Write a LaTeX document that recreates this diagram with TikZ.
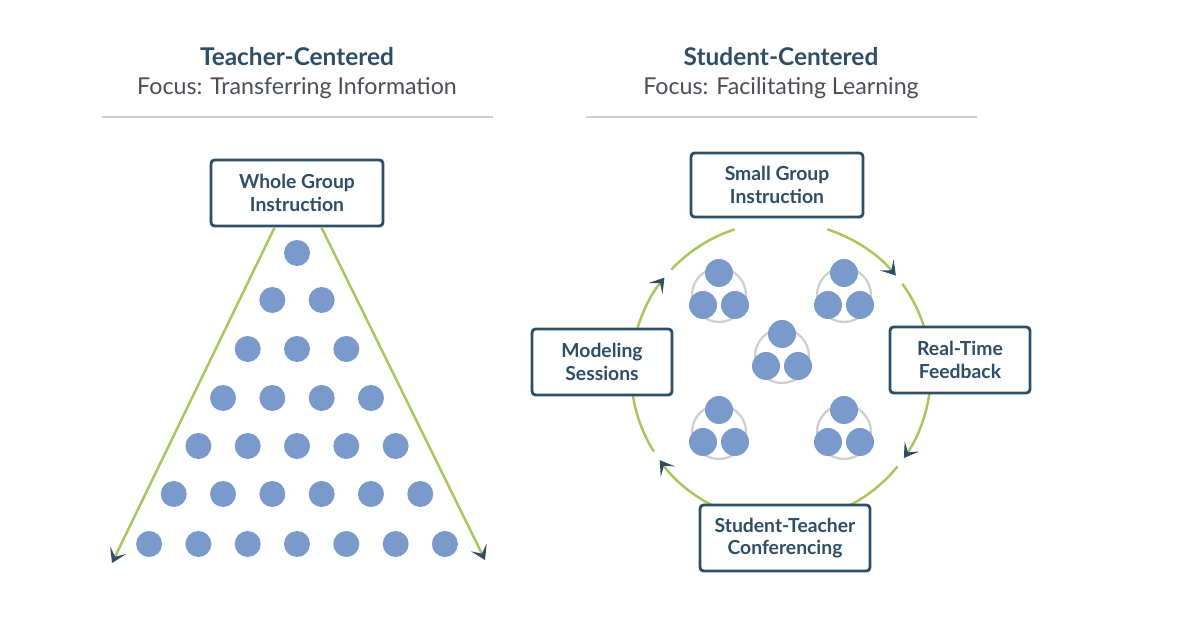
\documentclass[tikz,border=0pt]{standalone}
\usepackage{fontspec}
\setmainfont{Lato}
\usetikzlibrary{arrows.meta}
\definecolor{darkslate}{HTML}{2E4D66}
\definecolor{focusgray}{HTML}{4A4F55}
\definecolor{dotblue}{HTML}{7B9ACC}
\definecolor{leafgreen}{HTML}{A8C65A}
\definecolor{rulegray}{HTML}{CFCFCF}
\tikzset{
  box/.style={draw=darkslate, line width=1.6pt, rounded corners=2pt, fill=white,
    align=center, text=darkslate, font=\fontsize{11}{13}\selectfont\bfseries,
    inner sep=0pt},
  flow/.style={leafgreen, line width=1.4pt},
  tip/.style={-{Stealth[length=8pt,width=10pt,inset=4pt,color=darkslate]}},
  dot/.style={fill=dotblue},
}
\begin{document}
\begin{tikzpicture}[x=0.02cm,y=0.02cm]
  \useasboundingbox (0,0) rectangle (1200,625);
  % Headings
  \node[text=darkslate, font=\fontsize{13.9}{17}\selectfont\bfseries] (tchead) at (297,568) {Teacher-Centered};
  \node[text=focusgray, font=\fontsize{13.2}{16}\selectfont] (tcfocus) at (297,537) {Focus: Transferring Information};
  \node[text=darkslate, font=\fontsize{13.9}{17}\selectfont\bfseries] (schead) at (781,568) {Student-Centered};
  \node[text=focusgray, font=\fontsize{13.2}{16}\selectfont] (scfocus) at (781,537) {Focus: Facilitating Learning};
  \draw[rulegray, line width=1pt] (102,508) -- (493,508);
  \draw[rulegray, line width=1pt] (586,508) -- (977,508);
  % Teacher-centered
  \node[box, minimum width=3.44cm, minimum height=1.32cm] (whole) at (297,432) {Whole Group\\Instruction};
  \coordinate (lend) at (112,62);
  \coordinate (rend) at (485,65);
  \draw[flow, tip] (whole.south west) ++(65,0) -- (lend);
  \draw[flow, tip] (whole.south east) ++(-63,0) -- (rend);
  \foreach \r/\y in {1/372,2/325,3/276,4/227,5/179,6/131,7/81} {
    \foreach \k in {1,...,\r} {
      \fill[dot] ({297+(\k-(\r+1)/2)*49.3},\y) circle (13);
    }
  }
  % Student-centered
  \coordinate (hub) at (781,253);
  \foreach \a/\m/\b in {72/40/8, -8/-35/-70, 250/216/188, 172/141/108} {
    \draw[flow, tip] (hub) ++(\a:3cm) arc[start angle=\a, end angle=\m, radius=3cm];
    \draw[flow] (hub) ++(\m-4:3cm) arc[start angle=\m-4, end angle=\b, radius=3cm];
  }
  \node[box, minimum width=3.44cm, minimum height=1.28cm] (small) at (777,440) {Small Group\\Instruction};
  \node[box, minimum width=2.8cm, minimum height=1.32cm] (model) at (602,263) {Modeling\\Sessions};
  \node[box, minimum width=2.8cm, minimum height=1.32cm] (feedback) at (960,265) {Real-Time\\Feedback};
  \node[box, minimum width=3.4cm, minimum height=1.32cm] (confer) at (785,87) {Student-Teacher\\Conferencing};
  \foreach \x/\y in {719/330, 844/330, 782/269, 719/193, 844/193} {
    \draw[rulegray, line width=1.3pt] (\x,\y) circle (27);
    \fill[dot] (\x,\y+22) circle (14);
    \fill[dot] (\x-16,\y-10) circle (14);
    \fill[dot] (\x+16,\y-10) circle (14);
  }
\end{tikzpicture}
\end{document}
